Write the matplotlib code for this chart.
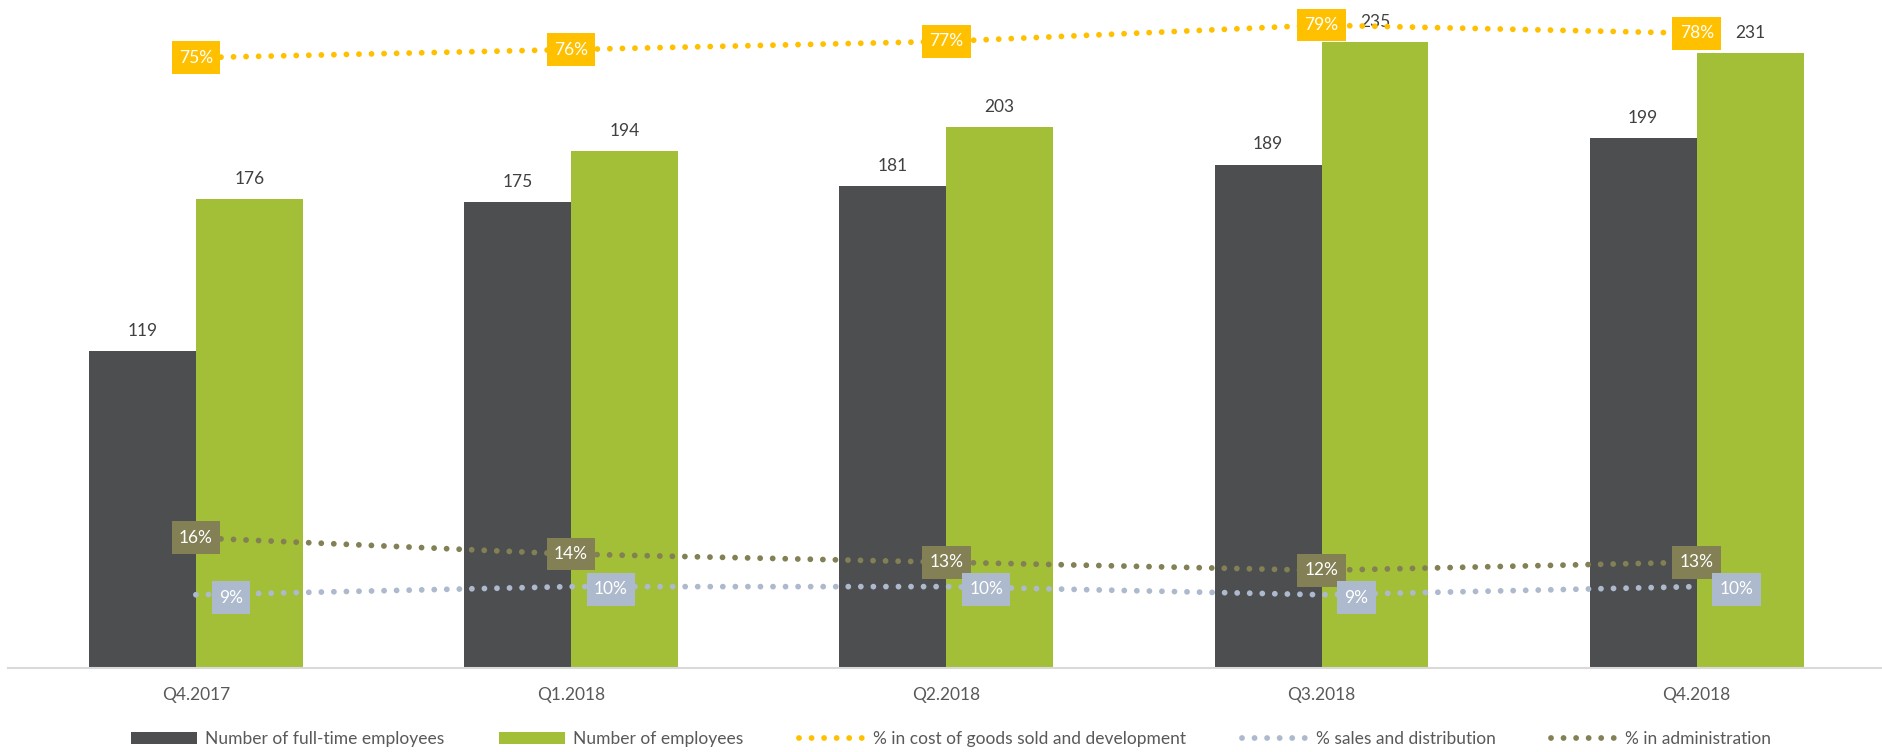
import numpy as np
import matplotlib.pyplot as plt
from matplotlib.path import Path
from matplotlib.patches import Patch
from matplotlib.lines import Line2D

# headcount per quarter and share of staff per function
quarters = ["Q4.2017", "Q1.2018", "Q2.2018", "Q3.2018", "Q4.2018"]
full_time = [119, 175, 181, 189, 199]
employees = [176, 194, 203, 235, 231]
pct_cogs = [75, 76, 77, 79, 78]
pct_sales = [9, 10, 10, 9, 10]
pct_admin = [16, 14, 13, 12, 13]

legend_labels = ["Number of full-time employees", "Number of employees",
                 "% in cost of goods sold and development",
                 "% sales and distribution", "% in administration"]

c_dark = "#4d4e50"
c_green = "#a3bf38"
c_cogs = "#ffc000"
c_sales = "#adb9cc"
c_admin = "#828054"
c_num = "#404040"
c_axis = "#595959"

plt.rcParams['font.family'] = ['Lato', 'DejaVu Sans']
FS = 12.5

# round dots: zero-length dashes with round caps, ~12.5 px apart
dot_lw = 4.2
dots = (0, (0.001, 2.15))


def label_box(x0, y0, width, height, mutation_size):
    # rectangular label box, wider padding left/right than top/bottom
    px = 0.42 * mutation_size
    py = 0.48 * mutation_size
    x0, y0 = x0 - px, y0 - py
    x1, y1 = x0 + width + 2 * px, y0 + height + 2 * py
    return Path([(x0, y0), (x1, y0), (x1, y1), (x0, y1), (x0, y0)], closed=True)


fig = plt.figure(figsize=(18.83, 7.52), dpi=100)
ax = fig.add_axes([8.3 / 1883, 84 / 752, 1876 / 1883, 665.65 / 752])
ax2 = ax.twinx()

x = np.arange(len(quarters))
w = 0.285
ax.bar(x - w / 2, full_time, width=w, color=c_dark, zorder=2)
ax.bar(x + w / 2, employees, width=w, color=c_green, zorder=2)
for i in range(len(quarters)):
    ax.annotate(str(full_time[i]), (x[i] - w / 2, full_time[i]), xytext=(0, 11),
                textcoords='offset points', ha='center', va='baseline',
                color=c_num, fontsize=FS)
    ax.annotate(str(employees[i]), (x[i] + w / 2, employees[i]), xytext=(0, 11),
                textcoords='offset points', ha='center', va='baseline',
                color=c_num, fontsize=FS)

ax.set_xlim(-0.5, 4.5)
ax.set_ylim(0, 250)
ax2.set_ylim(0, 81.8)

for vals, col in [(pct_cogs, c_cogs), (pct_sales, c_sales), (pct_admin, c_admin)]:
    ax2.plot(x, vals, color=col, lw=dot_lw, linestyle=dots,
             dash_capstyle='round', zorder=3)

for i in range(len(quarters)):
    ax2.annotate(f"{pct_cogs[i]}%", (x[i], pct_cogs[i]), ha='center', va='center',
                 color='white', fontsize=FS, zorder=5,
                 bbox=dict(boxstyle=label_box, fc=c_cogs, ec='none'))
    ax2.annotate(f"{pct_admin[i]}%", (x[i], pct_admin[i]), ha='center', va='center',
                 color='white', fontsize=FS, zorder=5,
                 bbox=dict(boxstyle=label_box, fc=c_admin, ec='none'))
    ax2.annotate(f"{pct_sales[i]}%", (x[i], pct_sales[i]), xytext=(16.5, -2),
                 textcoords='offset points', ha='left', va='center',
                 color='white', fontsize=FS, zorder=5,
                 bbox=dict(boxstyle=label_box, fc=c_sales, ec='none'))

ax.set_xticks(x, quarters)
ax.tick_params(axis='x', length=0, pad=14, labelcolor=c_axis, labelsize=FS)
ax.set_yticks([])
ax2.set_yticks([])
for s in ['top', 'left', 'right']:
    ax.spines[s].set_visible(False)
for s in ax2.spines.values():
    s.set_visible(False)
ax.spines['bottom'].set_color('#d9d9d9')
ax.spines['bottom'].set_linewidth(1.5)

handles = [Patch(fc=c_dark), Patch(fc=c_green)]
for col in [c_cogs, c_sales, c_admin]:
    handles.append(Line2D([], [], color=col, lw=dot_lw, linestyle=dots,
                          dash_capstyle='round'))
fig.legend(handles, legend_labels, loc='center', bbox_to_anchor=(0.505, 0.017),
           ncol=5, frameon=False, fontsize=FS, labelcolor=c_axis,
           handlelength=3.8, handleheight=0.62, handletextpad=0.46,
           columnspacing=3.2)

fig.savefig("out.png", dpi=100)
